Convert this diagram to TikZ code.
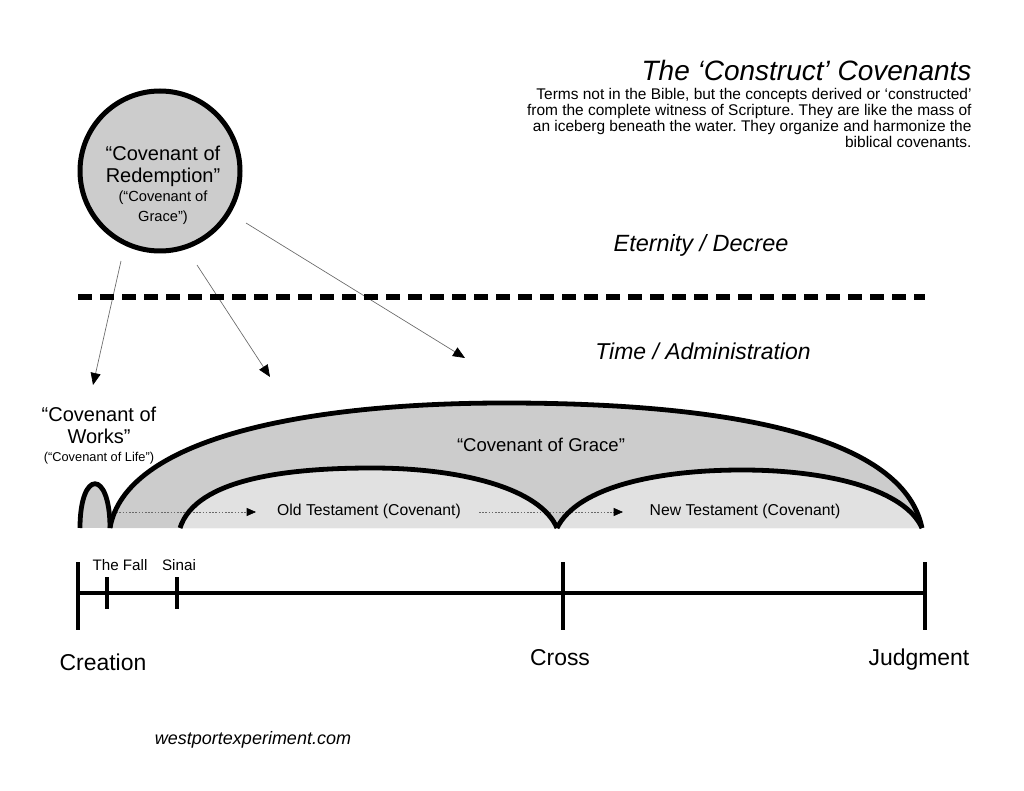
\documentclass[tikz,border=0pt]{standalone}
\usepackage{fontspec}
\setmainfont{Liberation Sans}
\usetikzlibrary{arrows.meta}
\frenchspacing

\definecolor{archgray}{RGB}{204,204,204}
\definecolor{innergray}{RGB}{225,225,225}
\definecolor{linegray}{RGB}{105,105,105}

\tikzset{every picture/.style={line width=0.75pt}}
\tikzset{
  archline/.style={line width=3.6pt},
  pointer/.style={draw=linegray, line width=0.5pt, -{Triangle[length=9pt,width=7.5pt,color=black]}},
  flow/.style={draw=linegray, line width=0.5pt, dash pattern=on 1.2pt off 1.2pt, -{Triangle[length=7pt,width=6pt,color=black]}},
  timeline/.style={line width=3pt},
  txt/.style={inner sep=0.75pt, align=center},
}

\begin{document}
\begin{tikzpicture}[x=0.75pt,y=0.75pt,yscale=-1,xscale=1]
\useasboundingbox (0,0) rectangle (1024,791);

%Shape: Circle [redemption]
\node [circle, draw, line width=3.75pt, fill=archgray, minimum size=120pt, inner sep=0pt] (redemption) at (160,171) {};
% Text Node
\node [txt, font=\fontsize{15}{16.5}\selectfont] (redemptiontext) at (163,185) {“Covenant of\\ Redemption”\\[-2pt] {\fontsize{11}{13.5}\selectfont (“Covenant of}\\[-1.5pt] {\fontsize{11}{13.5}\selectfont Grace”)}};

%Straight Lines [pointers]
\coordinate (p1s) at (121,261);
\coordinate (p1e) at (93,385);
\coordinate (p2s) at (197,265);
\coordinate (p2e) at (270,377);
\coordinate (p3s) at (246,223);
\coordinate (p3e) at (465,358);
\draw [pointer] (p1s) -- (p1e);
\draw [pointer] (p2s) -- (p2e);
\draw [pointer] (p3s) -- (p3e);

%Straight Lines [dashed divider]
\coordinate (divl) at (78,297);
\coordinate (divr) at (925,297);
\draw [line width=4.5pt, dash pattern=on 10.5pt off 6pt] (divl) -- (divr);

% Text Node
\node [txt, anchor=base east] (title) at (973,81) {\fontsize{21}{25}\selectfont\itshape The ‘Construct’ Covenants};
% Text Node
\node [txt, anchor=north east, align=right, font=\fontsize{11.6}{12}\selectfont] (blurb) at (973,87) {Terms not in the Bible, but the concepts derived or ‘constructed’\\ from the complete witness of Scripture. They are like the mass of\\ an iceberg beneath the water. They organize and harmonize the\\ biblical covenants.};
% Text Node
\node [txt] (eternity) at (701,245) {\fontsize{17.6}{20}\selectfont\itshape Eternity / Decree};
% Text Node
\node [txt] (time) at (703,351) {\fontsize{17.2}{20}\selectfont\itshape Time / Administration};
% Text Node
\node [txt, font=\fontsize{15}{16.5}\selectfont] (works) at (99,436) {“Covenant of\\ Works”\\[-3pt] {\fontsize{9.6}{11}\selectfont (“Covenant of Life”)}};

%Shape: Arc [grace fill]
\fill [archgray] (110,528) .. controls (125,440) and (300,403) .. (505,403) .. controls (760,403) and (905,445) .. (922,528) -- cycle;
%Shape: Arc [works fill]
\fill [archgray] (80,528) .. controls (80,469) and (110,469) .. (110,528) -- cycle;
%Shape: Arc [old testament fill]
\fill [innergray] (180,528) .. controls (196,478) and (290,468) .. (372,468) .. controls (460,468) and (540,488) .. (557,528) -- cycle;
%Shape: Arc [new testament fill]
\fill [innergray] (557,528) .. controls (578,486) and (660,470) .. (742,470) .. controls (830,470) and (905,490) .. (922,528) -- cycle;

%Straight Lines [flow arrows]
\coordinate (ots) at (113,512);
\coordinate (ote) at (256,512);
\coordinate (nts) at (479,512);
\coordinate (nte) at (623,512);
\draw [flow] (ots) -- (ote);
\draw [flow] (nts) -- (nte);

%Shape: Arc [outlines]
\draw [archline] (80,528) .. controls (80,469) and (110,469) .. (110,528);
\draw [archline] (110,528) .. controls (125,440) and (300,403) .. (505,403) .. controls (760,403) and (905,445) .. (922,528);
\draw [archline] (180,528) .. controls (196,478) and (290,468) .. (372,468) .. controls (460,468) and (540,488) .. (557,528);
\draw [archline] (557,528) .. controls (578,486) and (660,470) .. (742,470) .. controls (830,470) and (905,490) .. (922,528);

% Text Node
\node [txt] (grace) at (541,445) {\fontsize{13.9}{16}\selectfont “Covenant of Grace”};
% Text Node
\node [txt] (oldtest) at (369,511) {\fontsize{11.8}{13}\selectfont Old Testament (Covenant)};
% Text Node
\node [txt] (newtest) at (745,511) {\fontsize{11.8}{13}\selectfont New Testament (Covenant)};

%Straight Lines [timeline]
\coordinate (creationtop) at (78,562);
\coordinate (creationbot) at (78,630);
\coordinate (falltop) at (107,577);
\coordinate (fallbot) at (107,609);
\coordinate (sinaitop) at (177,577);
\coordinate (sinaibot) at (177,609);
\coordinate (crosstop) at (563,562);
\coordinate (crossbot) at (563,630);
\coordinate (judgetop) at (925,562);
\coordinate (judgebot) at (925,630);
\coordinate (linel) at (78,593);
\coordinate (liner) at (925,593);
\draw [timeline] (linel) -- (liner);
\draw [timeline] (creationtop) -- (creationbot);
\draw [timeline] (falltop) -- (fallbot);
\draw [timeline] (sinaitop) -- (sinaibot);
\draw [timeline] (crosstop) -- (crossbot);
\draw [timeline] (judgetop) -- (judgebot);

% Text Node
\node [txt] (fall) at (120,565) {\fontsize{11.4}{13}\selectfont The Fall};
% Text Node
\node [txt] (sinai) at (179,565) {\fontsize{11.4}{13}\selectfont Sinai};
% Text Node
\node [txt, anchor=base] (creation) at (103,670) {\fontsize{17.2}{20}\selectfont Creation};
% Text Node
\node [txt, anchor=base] (cross) at (560,665) {\fontsize{17.2}{20}\selectfont Cross};
% Text Node
\node [txt, anchor=base] (judgment) at (919,665) {\fontsize{17.2}{20}\selectfont Judgment};
% Text Node
\node [txt] (website) at (253,740) {\fontsize{13.5}{16}\selectfont\itshape westportexperiment.com};

\end{tikzpicture}
\end{document}
